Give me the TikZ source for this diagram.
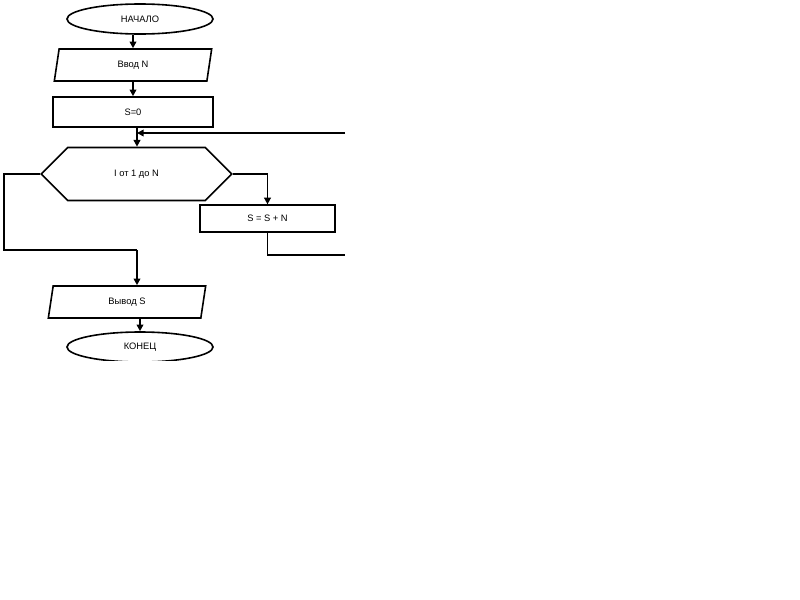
\documentclass[tikz,border=0pt]{standalone}
\usepackage{fontspec}
\setmainfont{Liberation Sans}
\usetikzlibrary{shapes.geometric,shapes.misc,arrows.meta}
\begin{document}
\begin{tikzpicture}[x=0.75pt,y=-0.75pt,
  line width=1.2pt,
  lbl/.style={font=\fontsize{7}{8}\selectfont},
  term/.style={draw,ellipse,minimum width=109.5pt,minimum height=22.5pt,inner sep=0pt,lbl},
  io/.style={draw,trapezium,trapezium left angle=60,trapezium right angle=120,trapezium stretches body,minimum width=118pt,minimum height=24pt,inner sep=0pt,lbl},
  proc/.style={draw,rectangle,inner sep=0pt,lbl},
  hex/.style={draw,chamfered rectangle,chamfered rectangle xsep=29pt,chamfered rectangle ysep=19pt,minimum width=143pt,minimum height=38pt,inner sep=0pt,lbl},
  arr/.style={-{Triangle[length=5pt,width=5pt]}}]
\useasboundingbox (0,0) rectangle (800,600);
\node[term] (start) at (140,19) {НАЧАЛО};
\node[io] (in) at (133,65) {Ввод N};
\node[proc,minimum width=120pt,minimum height=22.5pt] (s0) at (133,112) {S=0};
\node[hex] (loop) at (136.5,174) {I от 1 до N};
\node[proc,minimum width=101pt,minimum height=20pt] (body) at (267.5,218.5) {S = S + N};
\node[io] (out) at (127,302) {Вывод S};
\begin{scope}
\clip (0,320) rectangle (800,360);
\node[term] (end) at (140,347) {КОНЕЦ};
\end{scope}
\coordinate (j) at (137,133);
\coordinate (r1) at (345,133);
\coordinate (r2) at (345,255);
\coordinate (l1) at (4,174);
\coordinate (l2) at (4,250);
\coordinate (l3) at (137,250);
\draw[arr] (start.south -| in) -- (in);
\draw[arr] (in) -- (s0);
\draw[arr] (s0.south -| j) -- (loop.north -| j);
\draw[arr] (r1) -- (j);
\draw[arr] (loop.east) -| (body.north);
\draw (body.south) |- (r2);
\draw (loop.west) -- (l1) -- (l2) -- (l3);
\draw[arr] (l3) -- (out.north -| l3);
\draw[arr] (out.south -| end) -- (end.north);
\end{tikzpicture}
\end{document}
